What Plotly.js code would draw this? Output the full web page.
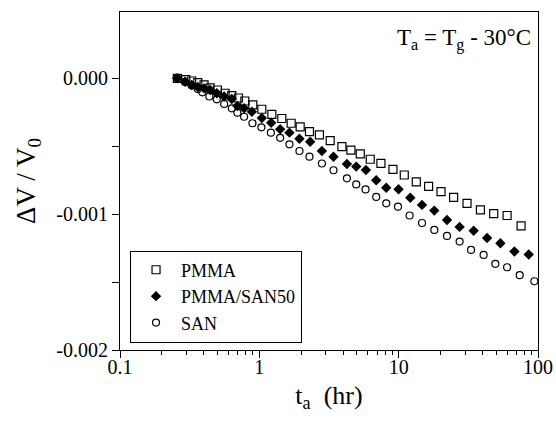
<!DOCTYPE html>
<html>
<head>
<meta charset="utf-8">
<script src="https://cdn.plot.ly/plotly-3.0.1.min.js"></script>
<style>html,body{margin:0;padding:0;background:#fff;}#chart{width:556px;height:427px;}</style>
</head>
<body>
<div id="chart"></div>
<script>
// ---- data ----
const pmmaT = [0.258,0.2965,0.327,0.3615,0.401,0.443,0.500,0.568,0.634,0.708,0.787,0.898,1.042,1.23,1.45,1.692,1.964,2.29,2.70,3.225,3.914,4.543,5.30,6.25,7.46,9.10,10.97,13.38,16.40,20.13,24.8,30.95,38.6,48.1,60.0,75.6];
const pmmaDV = [0,-0.00001,-0.00002,-0.000032,-0.000049,-0.000071,-0.000086,-0.00011,-0.000128,-0.000145,-0.000167,-0.000196,-0.000228,-0.000265,-0.000296,-0.000331,-0.000358,-0.000393,-0.000417,-0.000459,-0.000503,-0.000528,-0.000557,-0.000596,-0.000626,-0.00067,-0.000712,-0.000763,-0.000795,-0.000834,-0.000876,-0.000921,-0.000969,-0.000996,-0.00101,-0.001087];

const blendT = [0.2568,0.293,0.327,0.3615,0.401,0.443,0.495,0.559,0.634,0.696,0.778,0.884,1.042,1.216,1.411,1.645,1.941,2.317,2.812,3.407,4.252,4.96,5.82,6.90,8.145,9.98,12.12,14.71,18.02,22.23,27.38,34.52,43.1,53.7,67.7,85.8];
const blendDV = [0,-0.000025,-0.000049,-0.000064,-0.000074,-0.000086,-0.00011,-0.000134,-0.000152,-0.000204,-0.000221,-0.000246,-0.000292,-0.000327,-0.000375,-0.0004,-0.000445,-0.000467,-0.000535,-0.000577,-0.000631,-0.00065,-0.000675,-0.000751,-0.000806,-0.000817,-0.000879,-0.000932,-0.000974,-0.001043,-0.001094,-0.001122,-0.001176,-0.001214,-0.001275,-0.001297];

const sanT = [0.2568,0.293,0.327,0.3615,0.390,0.438,0.495,0.559,0.634,0.696,0.778,0.892,1.035,1.21,1.411,1.645,1.941,2.29,2.812,3.407,4.252,4.96,5.785,6.90,8.145,9.89,11.98,14.71,18.02,22.23,27.38,33.07,40.7,49.4,60.0,73.9,94.2];
const sanDV = [0,-0.000027,-0.000053,-0.000079,-0.000103,-0.000134,-0.000155,-0.000189,-0.000221,-0.000253,-0.000283,-0.000331,-0.000361,-0.0004,-0.000438,-0.000486,-0.000535,-0.000577,-0.000627,-0.000677,-0.000736,-0.000781,-0.000818,-0.000873,-0.00092,-0.000945,-0.00101,-0.001065,-0.001116,-0.00116,-0.001202,-0.001263,-0.0013,-0.001366,-0.001391,-0.001449,-0.001494];

const seriesNames = ["PMMA", "PMMA/SAN50", "SAN"];
const yTickVals = [-0.002, -0.001, 0.000];
const yTickText = ["-0.002", "-0.001", "0.000"];
const xTickVals = [0.1, 1, 10, 100];
const xTickText = ["0.1", "1", "10", "100"];

const FONT = "Liberation Serif, Times New Roman, serif";

const traces = [
  {x: pmmaT, y: pmmaDV, name: seriesNames[0], type: "scatter", mode: "markers",
   marker: {symbol: "square-open", size: 8, color: "#000", line: {width: 1.2, color: "#000"}}},
  {x: blendT, y: blendDV, name: seriesNames[1], type: "scatter", mode: "markers",
   marker: {symbol: "diamond", size: 8, color: "#000", line: {width: 0}}},
  {x: sanT, y: sanDV, name: seriesNames[2], type: "scatter", mode: "markers",
   marker: {symbol: "circle-open", size: 7, color: "#000", line: {width: 1.2, color: "#000"}}}
];

const layout = {
  width: 556, height: 427,
  margin: {l: 120, r: 18, t: 12, b: 77},
  paper_bgcolor: "#fff", plot_bgcolor: "#fff",
  font: {family: FONT, color: "#000", size: 20},
  showlegend: true,
  legend: {x: 0.024, y: 0.022, xanchor: "left", yanchor: "bottom",
           bgcolor: "#fff", bordercolor: "#000", borderwidth: 1,
           font: {family: FONT, size: 18, color: "#000"}, itemwidth: 40, tracegroupgap: 0},
  xaxis: {
    type: "log", range: [-1, 2], autorange: false,
    showline: true, linecolor: "#000", linewidth: 1, mirror: true,
    showgrid: false, zeroline: false,
    ticks: "outside", ticklen: 7, tickcolor: "#000", tickwidth: 1,
    tickvals: xTickVals, ticktext: xTickText, ticklabelstandoff: -8,
    tickfont: {family: FONT, size: 20, color: "#000"},
    minor: {ticks: "outside", ticklen: 4, tickcolor: "#000", dtick: "D1", showgrid: false},
    title: {text: "t<sub>a</sub>  (hr)", font: {family: FONT, size: 26, color: "#000"}, standoff: 8}
  },
  yaxis: {
    range: [-0.002, 0.000488], autorange: false,
    showline: true, linecolor: "#000", linewidth: 1, mirror: true,
    showgrid: false, zeroline: false,
    ticks: "outside", ticklen: 7, tickcolor: "#000", tickwidth: 1,
    tickvals: yTickVals, ticktext: yTickText,
    tickfont: {family: FONT, size: 20, color: "#000"},
    minor: {ticks: "outside", ticklen: 7, tickcolor: "#000", dtick: 0.0005, tick0: 0, showgrid: false},
    title: {text: "ΔV / V<sub>0</sub>", font: {family: FONT, size: 27, color: "#000"}, standoff: 12}
  },
  annotations: [{
    xref: "paper", yref: "paper", x: 0.988, y: 0.92, xanchor: "right", yanchor: "middle",
    text: "T<sub>a</sub> = T<sub>g</sub> - 30°C", showarrow: false,
    font: {family: FONT, size: 23, color: "#000"}
  }]
};

Plotly.newPlot("chart", traces, layout, {staticPlot: true, displayModeBar: false});
</script>
</body>
</html>
